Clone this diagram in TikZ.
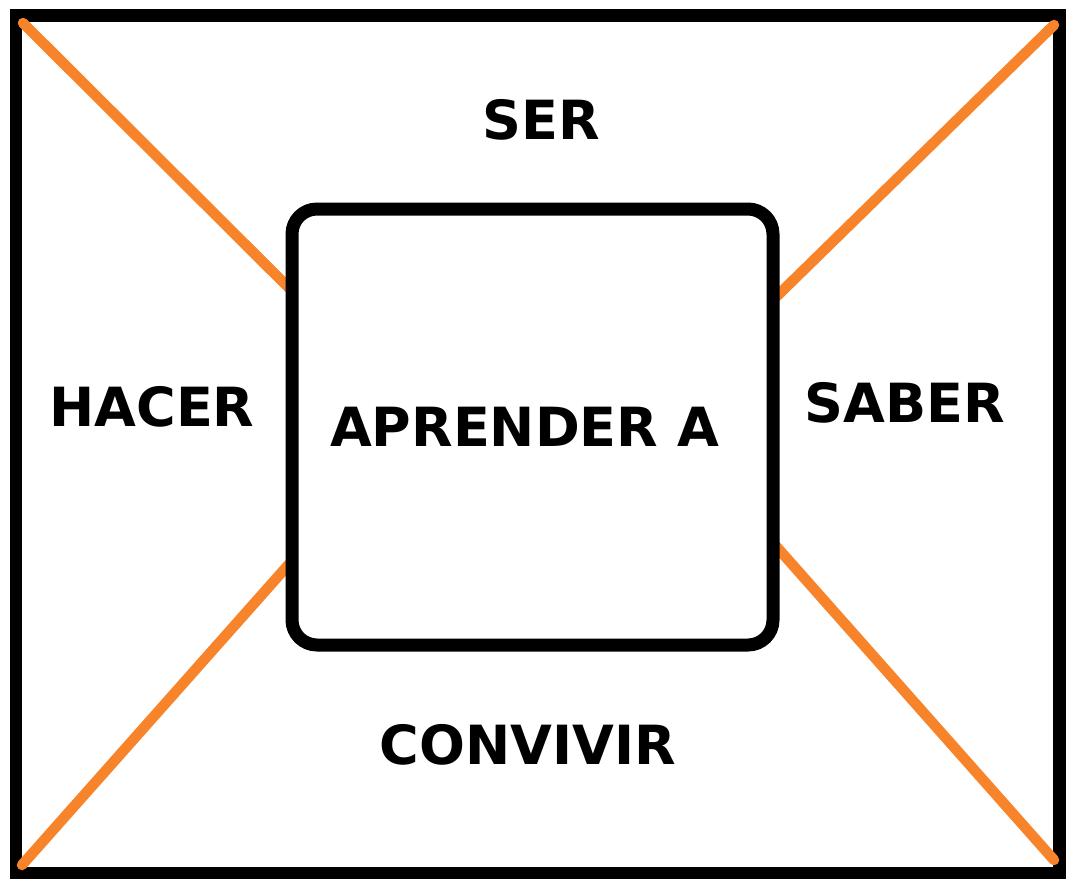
\documentclass[tikz,border=0pt]{standalone}
\usepackage{fontspec}
\setmainfont{DejaVu Sans}
\definecolor{naranja}{RGB}{247,131,42}
\tikzset{
  palabra/.style={font=\bfseries\fontsize{54}{60}\selectfont, inner sep=0pt},
  diagonal/.style={draw=naranja, line width=10.5pt, line cap=round},
}
\begin{document}
\begin{tikzpicture}[x=1pt,y=-1pt]
\useasboundingbox (0,0) rectangle (1066,879);

\draw[line width=12.5pt] (16,15.5) rectangle (1059.5,873);

\coordinate (esqA) at (23,23);
\coordinate (esqB) at (1054,25);
\coordinate (esqC) at (22,865);
\coordinate (esqD) at (1054,860);

\coordinate (finA) at (290,289);
\coordinate (finB) at (775,298);
\coordinate (finC) at (290,563);
\coordinate (finD) at (775,545);

\draw[diagonal] (esqA) -- (finA);
\draw[diagonal] (esqB) -- (finB);
\draw[diagonal] (esqC) -- (finC);
\draw[diagonal] (esqD) -- (finD);

\node[draw, fill=white, line width=13pt, rounded corners=25pt,
  minimum width=481pt, minimum height=436pt, palabra] (centro) at (532.5,427) {APRENDER A\hspace*{16pt}};

\node[palabra] (ser) at (541,120) {SER};
\node[palabra] (hacer) at (152,407) {HACER};
\node[palabra] (saber) at (905,403) {SABER};
\node[palabra] (convivir) at (528,745) {CONVIVIR};

\end{tikzpicture}
\end{document}
